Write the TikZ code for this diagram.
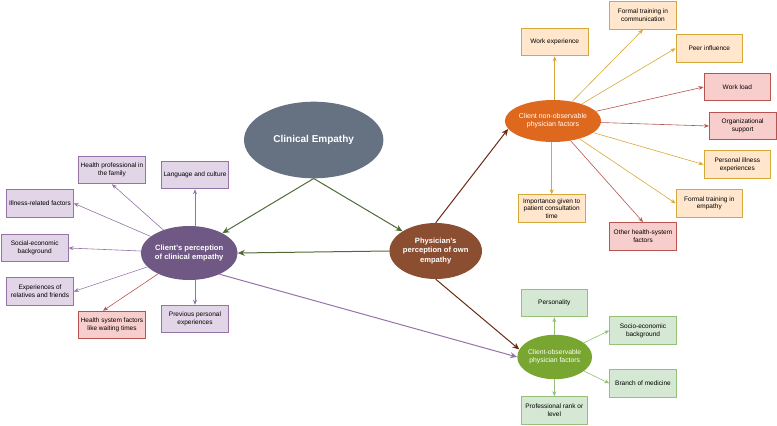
\documentclass[tikz,border=0pt]{standalone}
\usepackage{fontspec}
\setmainfont{Liberation Sans}
\definecolor{slategray}{RGB}{102,114,130}
\definecolor{clientpurple}{RGB}{112,88,132}
\definecolor{physbrown}{RGB}{139,78,48}
\definecolor{nonobsorange}{RGB}{222,104,30}
\definecolor{obsgreen}{RGB}{120,166,48}
\definecolor{darkarrow}{RGB}{79,107,53}
\definecolor{brownarrow}{RGB}{107,42,15}
\definecolor{purplefill}{HTML}{E1D5E7}
\definecolor{purpleline}{HTML}{9673A6}
\definecolor{redfill}{HTML}{F8CECC}
\definecolor{redline}{HTML}{B85450}
\definecolor{orangefill}{HTML}{FFE6CC}
\definecolor{orangeline}{HTML}{D6A838}
\definecolor{greenfill}{HTML}{D5E8D4}
\definecolor{greenline}{HTML}{96BF78}
\usetikzlibrary{shapes.geometric,arrows.meta,positioning,calc}

\tikzset{
    hub/.style={ellipse, inner sep=0pt, text=white, align=center},
    factor/.style={rectangle, draw, line width=0.8pt, minimum width=66.7pt, minimum height=27.7pt,
        inner sep=1pt, align=center, font=\fontsize{6.5}{7.8}\selectfont},
    purplebox/.style={factor, fill=purplefill, draw=purpleline},
    redbox/.style={factor, fill=redfill, draw=redline},
    orangebox/.style={factor, fill=orangefill, draw=orangeline},
    greenbox/.style={factor, fill=greenfill, draw=greenline},
    link/.style={-{Stealth[length=5pt,width=4pt]}, line width=0.6pt},
    mainlink/.style={-{Stealth[length=7pt,width=6pt]}, line width=1pt}
}

\begin{document}
\begin{tikzpicture}[x=1pt, y=-1pt]
    \useasboundingbox (0,0) rectangle (777,426);

    % Central nodes
    \node[hub, fill=slategray, minimum width=139.4pt, minimum height=76.6pt,
        font=\fontsize{10}{12}\selectfont\bfseries] (clin) at (313.7,140) {Clinical Empathy};
    \node[hub, fill=clientpurple, minimum width=77pt, minimum height=54pt,
        font=\fontsize{7.6}{9}\selectfont\bfseries] (client) at (189.2,253) {Client's perception\\of clinical empathy};
    \node[hub, fill=physbrown, minimum width=83.4pt, minimum height=56pt,
        font=\fontsize{7.6}{9.4}\selectfont\bfseries] (phys) at (435.7,251) {Physician's\\perception of own\\empathy};
    \node[hub, fill=nonobsorange, minimum width=74pt, minimum height=42pt,
        font=\fontsize{7}{8.2}\selectfont] (nonobs) at (553,121) {Client non-observable\\physician factors};
    \node[hub, fill=obsgreen, minimum width=67.3pt, minimum height=44.4pt,
        font=\fontsize{6.8}{8}\selectfont] (obs) at (554.7,357) {Client-observable\\physician factors};

    % Client side factors
    \node[purplebox] (family) at (112,170) {Health professional in\\the family};
    \node[purplebox] (culture) at (195,175) {Language and culture};
    \node[purplebox] (illness) at (40,203.3) {Illness-related factors};
    \node[purplebox] (social) at (34.7,248) {Social-economic\\background};
    \node[purplebox] (relatives) at (40,291.5) {Experiences of\\relatives and friends};
    \node[redbox] (waiting) at (112,325) {Health system factors\\like waiting times};
    \node[purplebox] (previous) at (195,319) {Previous personal\\experiences};

    % Non-observable factors
    \node[orangebox] (workexp) at (554.7,42) {Work experience};
    \node[orangebox] (comm) at (643,15.3) {Formal training in\\communication};
    \node[orangebox] (peer) at (709.3,48.3) {Peer influence};
    \node[redbox] (workload) at (737.3,87) {Work load};
    \node[redbox] (orgsup) at (742.7,126) {Organizational\\support};
    \node[orangebox] (persill) at (737.3,164.5) {Personal illness\\experiences};
    \node[orangebox] (trainemp) at (709.3,203.3) {Formal training in\\empathy};
    \node[redbox] (otherhs) at (643,236.3) {Other health-system\\factors};
    \node[orangebox] (consult) at (551.7,208.5) {Importance given to\\patient consultation\\time};

    % Observable factors
    \node[greenbox] (person) at (554.3,303) {Personality};
    \node[greenbox] (socio) at (643,330.5) {Socio-economic\\background};
    \node[greenbox] (branch) at (643,383.3) {Branch of medicine};
    \node[greenbox] (rank) at (554.3,410.5) {Professional rank or\\level};

    % Main connections
    \draw[mainlink, darkarrow] (clin.south) -- (client);
    \draw[mainlink, darkarrow] (clin.south) -- (phys);
    \draw[mainlink, darkarrow] (phys.west) -- (client.east);
    \draw[mainlink, brownarrow] (phys.north) -- (nonobs.190);
    \draw[mainlink, brownarrow] (phys.south) -- (obs.168);
    \draw[mainlink, purpleline] (client.-35) -- (obs.west);

    % Client factor arrows
    \draw[link, purpleline] (client) -- (family.south);
    \draw[link, purpleline] (client.north -| culture) -- (culture.south);
    \draw[link, purpleline] (client) -- (illness.east);
    \draw[link, purpleline] (client) -- (social.east);
    \draw[link, purpleline] (client) -- (relatives.east);
    \draw[link, redline] (client) -- ([xshift=-9pt]waiting.north);
    \draw[link, purpleline] (client.south -| previous) -- (previous.north);

    % Non-observable factor arrows
    \draw[link, orangeline] (nonobs.north -| workexp) -- (workexp.south);
    \draw[link, orangeline] (nonobs) -- (comm.south);
    \draw[link, orangeline] (nonobs) -- (peer.west);
    \draw[link, redline] (nonobs) -- (workload.west);
    \draw[link, redline] (nonobs) -- (orgsup.west);
    \draw[link, orangeline] (nonobs) -- (persill.west);
    \draw[link, orangeline] (nonobs) -- (trainemp.west);
    \draw[link, redline] (nonobs) -- (otherhs.north);
    \draw[link, orangeline] (nonobs.south -| consult) -- (consult.north);

    % Observable factor arrows
    \draw[link, greenline] (obs.north -| person) -- (person.south);
    \draw[link, greenline] (obs) -- (socio.west);
    \draw[link, greenline] (obs) -- (branch.west);
    \draw[link, greenline] (obs.south -| rank) -- (rank.north);
\end{tikzpicture}
\end{document}
